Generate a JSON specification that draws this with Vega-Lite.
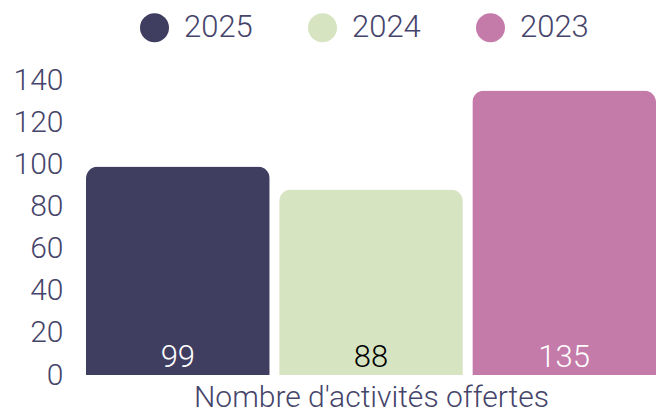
{
  "$schema": "https://vega.github.io/schema/vega-lite/v6.json",
  "width": 570,
  "height": 295,
  "padding": {"left": 86, "top": 80, "right": 0, "bottom": 40},
  "autosize": {"type": "none"},
  "background": "white",
  "config": {
    "view": {"stroke": null},
    "font": "Roboto",
    "axis": {"labelFont": "Roboto", "titleFont": "Roboto", "labelColor": "#45446a", "titleColor": "#45446a"},
    "legend": {"labelFont": "Roboto"}
  },
  "data": {
    "values": [
      {"annee": "2025", "valeur": 99},
      {"annee": "2024", "valeur": 88},
      {"annee": "2023", "valeur": 135}
    ]
  },
  "encoding": {
    "x": {
      "field": "annee",
      "type": "nominal",
      "sort": ["2025", "2024", "2023"],
      "scale": {"paddingInner": 0.049, "paddingOuter": 0},
      "axis": {
        "title": "Nombre d'activités offertes",
        "labels": false,
        "ticks": false,
        "domain": false,
        "titleFontSize": 30,
        "titleFontWeight": 300,
        "titlePadding": 7
      }
    },
    "y": {
      "field": "valeur",
      "type": "quantitative",
      "scale": {"domain": [0, 140]},
      "axis": {
        "title": null,
        "values": [0, 20, 40, 60, 80, 100, 120, 140],
        "grid": false,
        "ticks": false,
        "domain": false,
        "labelFontSize": 30,
        "labelFontWeight": 300,
        "labelPadding": 23
      }
    }
  },
  "layer": [
    {
      "mark": {"type": "bar", "cornerRadiusTopLeft": 12, "cornerRadiusTopRight": 12},
      "encoding": {
        "color": {
          "field": "annee",
          "type": "nominal",
          "sort": ["2025", "2024", "2023"],
          "scale": {"domain": ["2025", "2024", "2023"], "range": ["#403e60", "#d6e4c1", "#c47ba9"]},
          "legend": {
            "title": null,
            "orient": "none",
            "legendX": 53,
            "legendY": -68,
            "direction": "horizontal",
            "symbolType": "circle",
            "symbolSize": 841,
            "symbolStrokeWidth": 0,
            "labelFontSize": 31,
            "labelFontWeight": 300,
            "labelColor": "#45446a",
            "labelOffset": 14,
            "columnPadding": 54
          }
        }
      }
    },
    {
      "mark": {"type": "text", "baseline": "alphabetic", "fontSize": 31, "fontWeight": 300, "dy": -8.5},
      "encoding": {
        "y": {"datum": 0},
        "text": {"field": "valeur", "type": "quantitative"},
        "color": {
          "condition": {"test": "datum.annee === '2024'", "value": "#000000"},
          "value": "#ffffff"
        }
      }
    }
  ]
}
